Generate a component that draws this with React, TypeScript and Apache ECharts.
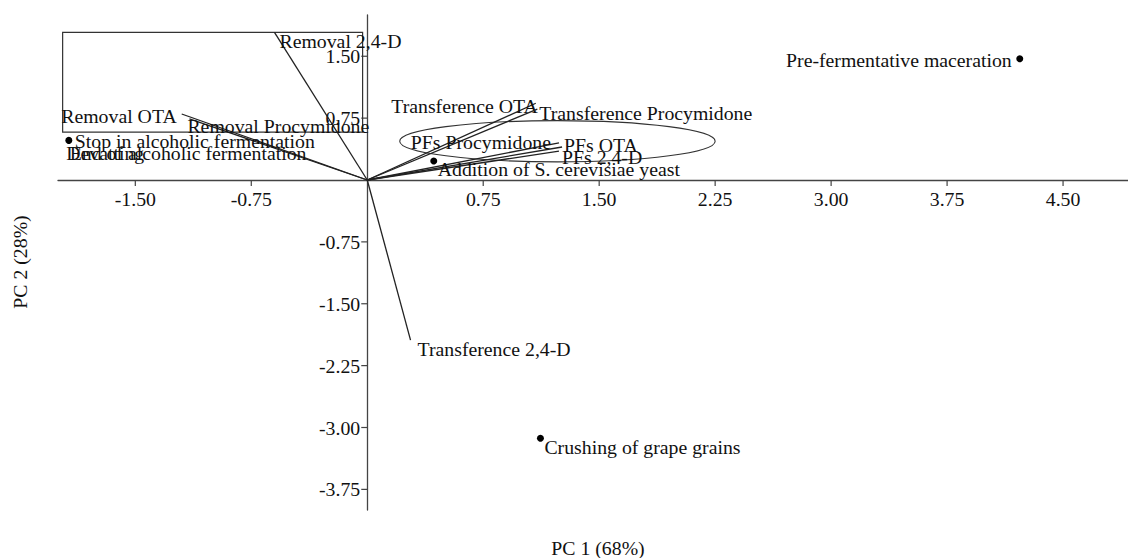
import React, { useEffect, useRef } from "react";
import * as echarts from "echarts";

// ---- Data ----
const xTicks = [-1.5, -0.75, 0.75, 1.5, 2.25, 3, 3.75, 4.5];
const yTicks = [-3.75, -3, -2.25, -1.5, -0.75, 0.75, 1.5];

const vectorNames = [
  "Removal 2,4-D",
  "Removal OTA",
  "Removal Procymidone",
  "Transference OTA",
  "Transference Procymidone",
  "PFs Procymidone",
  "PFs OTA",
  "PFs 2,4-D",
  "Transference 2,4-D",
];
const vectorPC1 = [-0.6, -1.2, -1.15, 1.09, 1.1, 1.24, 1.26, 1.24, 0.28];
const vectorPC2 = [1.79, 0.8, 0.74, 0.93, 0.86, 0.45, 0.4, 0.35, -1.94];

const pointNames = [
  "Stop in alcoholic fermentation",
  "End of alcoholic fermentation",
  "Devatting",
  "Addition of S. cerevisiae yeast",
  "Pre-fermentative maceration",
  "Crushing of grape grains",
];
const pointPC1 = [-1.93, -1.95, -1.96, 0.43, 4.22, 1.12];
const pointPC2 = [0.48, 0.33, 0.33, 0.23, 1.47, -3.13];

// annotation shapes (value coordinates)
const boxCorners = [-1.97, 1.79, -0.03, 0.58];
const ellipseShape = [1.23, 0.47, 1.02, 0.25];

// ---- Layout (label placement) ----
const vectorLabelLayout: [number, number, string][] = [
  [5, 9, "left"],
  [-5, 2, "right"],
  [-2, 7, "left"],
  [2, 3, "right"],
  [2, 4, "left"],
  [-8, -1, "right"],
  [2, -2, "left"],
  [3, 6, "left"],
  [7, 9, "left"],
];
const pointLabelLayout: [number, number, string][] = [
  [6, 1, "left"],
  [4, 0, "left"],
  [2, 0, "left"],
  [4, 8, "left"],
  [-8, 1, "right"],
  [4, 9, "left"],
];
const pointDotShown = [true, false, false, true, true, true];

const FONT = "'Liberation Serif', 'Times New Roman', serif";
const FS = 19.8;
const AXIS_COLOR = "#444";

export default function App() {
  const ref = useRef<HTMLDivElement>(null);
  useEffect(() => {
    if (!ref.current) return;
    const chart = echarts.init(ref.current, null, { renderer: "svg" });

    const vectorData = vectorNames.map((n, i) => [vectorPC1[i], vectorPC2[i], i]);
    const pointData = pointNames.map((n, i) => [pointPC1[i], pointPC2[i], i]);
    const xTickData = xTicks.map((v) => [v, 0]);
    const yTickData = yTicks.map((v) => [0, v]);

    const textStyle = (text: string, align: string) => ({
      text,
      fontSize: FS,
      fontFamily: FONT,
      fill: "#111",
      align,
      verticalAlign: "middle",
    });

    const option: any = {
      animation: false,
      backgroundColor: "#ffffff",
      grid: { left: 58, top: 15, width: 1070, height: 495, containLabel: false },
      xAxis: {
        type: "value",
        min: -2,
        max: 4.92,
        axisLine: { show: true, onZero: true, lineStyle: { color: AXIS_COLOR, width: 1.3 } },
        axisTick: { show: false },
        axisLabel: { show: false },
        splitLine: { show: false },
      },
      yAxis: {
        type: "value",
        min: -4,
        max: 2,
        axisLine: { show: true, onZero: true, lineStyle: { color: AXIS_COLOR, width: 1.3 } },
        axisTick: { show: false },
        axisLabel: { show: false },
        splitLine: { show: false },
      },
      graphic: [
        {
          type: "text",
          x: 598,
          y: 548,
          style: textStyle("PC 1 (68%)", "center"),
        },
        {
          type: "text",
          x: 20,
          y: 262,
          rotation: Math.PI / 2,
          style: textStyle("PC 2 (28%)", "center"),
        },
      ],
      series: [
        {
          type: "custom",
          name: "xTicks",
          data: xTickData,
          silent: true,
          clip: false,
          renderItem: (params: any, api: any) => {
            const v = api.value(0);
            const p = api.coord([v, 0]);
            return {
              type: "group",
              children: [
                {
                  type: "line",
                  shape: { x1: p[0], y1: p[1], x2: p[0], y2: p[1] + 6 },
                  style: { stroke: AXIS_COLOR, lineWidth: 1.2 },
                },
                {
                  type: "text",
                  x: p[0],
                  y: p[1] + 19,
                  style: textStyle(v.toFixed(2), "center"),
                },
              ],
            };
          },
        },
        {
          type: "custom",
          name: "yTicks",
          data: yTickData,
          silent: true,
          clip: false,
          renderItem: (params: any, api: any) => {
            const v = api.value(1);
            const p = api.coord([0, v]);
            return {
              type: "group",
              children: [
                {
                  type: "line",
                  shape: { x1: p[0] - 6, y1: p[1], x2: p[0], y2: p[1] },
                  style: { stroke: AXIS_COLOR, lineWidth: 1.2 },
                },
                {
                  type: "text",
                  x: p[0] - 7,
                  y: p[1],
                  style: textStyle(v.toFixed(2), "right"),
                },
              ],
            };
          },
        },
        {
          type: "custom",
          name: "box",
          data: [boxCorners],
          silent: true,
          clip: false,
          renderItem: (params: any, api: any) => {
            const a = api.coord([api.value(0), api.value(1)]);
            const b = api.coord([api.value(2), api.value(3)]);
            return {
              type: "rect",
              shape: { x: a[0], y: a[1], width: b[0] - a[0], height: b[1] - a[1] },
              style: { fill: "none", stroke: "#333", lineWidth: 1.2 },
            };
          },
        },
        {
          type: "custom",
          name: "ellipse",
          data: [ellipseShape],
          silent: true,
          clip: false,
          renderItem: (params: any, api: any) => {
            const c = api.coord([api.value(0), api.value(1)]);
            const s = api.size([api.value(2), api.value(3)]);
            return {
              type: "ellipse",
              shape: { cx: c[0], cy: c[1], rx: s[0], ry: s[1] },
              style: { fill: "none", stroke: "#333", lineWidth: 1.1 },
            };
          },
        },
        {
          type: "custom",
          name: "vectors",
          data: vectorData,
          clip: false,
          renderItem: (params: any, api: any) => {
            const i = api.value(2);
            const o = api.coord([0, 0]);
            const p = api.coord([api.value(0), api.value(1)]);
            const lay = vectorLabelLayout[i];
            return {
              type: "group",
              children: [
                {
                  type: "line",
                  shape: { x1: o[0], y1: o[1], x2: p[0], y2: p[1] },
                  style: { stroke: "#222", lineWidth: 1.3 },
                },
                {
                  type: "text",
                  x: p[0] + lay[0],
                  y: p[1] + lay[1],
                  style: textStyle(vectorNames[i], lay[2]),
                },
              ],
            };
          },
        },
        {
          type: "custom",
          name: "points",
          data: pointData,
          clip: false,
          renderItem: (params: any, api: any) => {
            const i = api.value(2);
            const p = api.coord([api.value(0), api.value(1)]);
            const lay = pointLabelLayout[i];
            const children: any[] = [];
            if (pointDotShown[i]) {
              children.push({
                type: "circle",
                shape: { cx: p[0], cy: p[1], r: 3.5 },
                style: { fill: "#000" },
              });
            }
            children.push({
              type: "text",
              x: p[0] + lay[0],
              y: p[1] + lay[1],
              style: textStyle(pointNames[i], lay[2]),
            });
            return { type: "group", children };
          },
        },
      ],
    };
    chart.setOption(option);
    return () => chart.dispose();
  }, []);

  return (
    <div
      ref={ref}
      style={{ position: "absolute", left: 0, top: 0, width: 1128, height: 558, background: "#fff" }}
    />
  );
}
